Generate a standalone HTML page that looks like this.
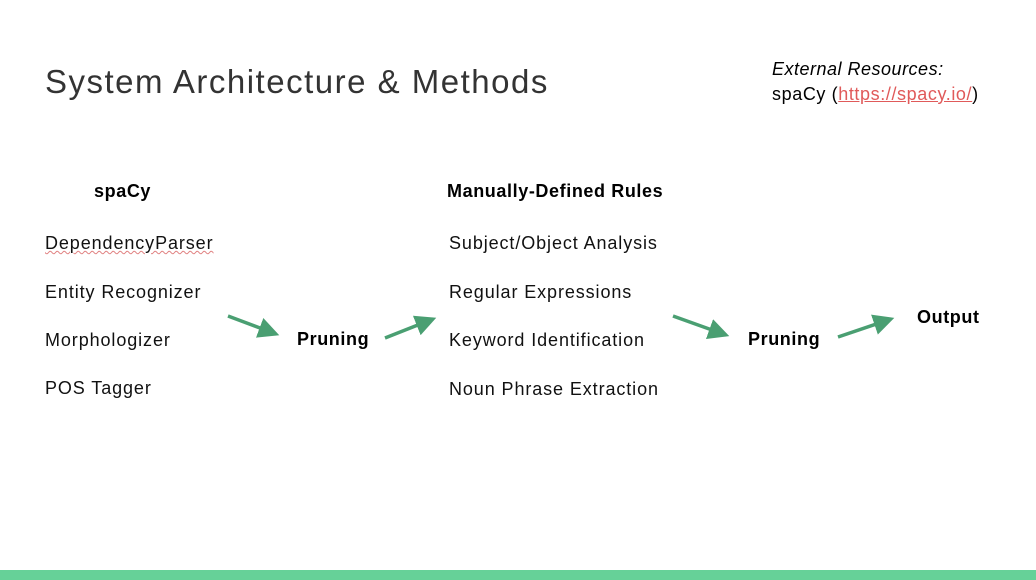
<!DOCTYPE html>
<html><head><meta charset="utf-8"><style>
body{margin:0;width:1036px;height:580px;background:#fff;position:relative;overflow:hidden;font-family:"Liberation Sans",sans-serif;color:#000}
.t{position:absolute;white-space:nowrap;line-height:1}
.i{font-size:18px;color:#111;letter-spacing:0.9px}
.b{font-size:18px;font-weight:bold;letter-spacing:0.6px}
</style></head><body>
<div class="t" style="left:45px;top:65px;font-size:33px;color:#333;letter-spacing:1.5px">System Architecture &amp; Methods</div>
<div class="t" style="left:772px;top:60px;font-size:18px;font-style:italic;letter-spacing:0.5px">External Resources:</div>
<div class="t" style="left:772px;top:85px;font-size:18px;letter-spacing:0.6px">spaCy (<span style="color:#e05a5a;text-decoration:underline">https://spacy.io/</span>)</div>
<div class="t b" style="left:94px;top:182px">spaCy</div>
<div class="t b" style="left:447px;top:182px">Manually-Defined Rules</div>
<div class="t i" style="left:45px;top:234px;text-decoration:underline wavy #e08080;text-decoration-thickness:1px">DependencyParser</div>
<div class="t i" style="left:45px;top:283px">Entity Recognizer</div>
<div class="t i" style="left:45px;top:331px">Morphologizer</div>
<div class="t i" style="left:45px;top:379px">POS Tagger</div>
<div class="t i" style="left:449px;top:234px">Subject/Object Analysis</div>
<div class="t i" style="left:449px;top:283px">Regular Expressions</div>
<div class="t i" style="left:449px;top:331px">Keyword Identification</div>
<div class="t i" style="left:449px;top:380px">Noun Phrase Extraction</div>
<div class="t b" style="left:297px;top:330px">Pruning</div>
<div class="t b" style="left:748px;top:330px">Pruning</div>
<div class="t b" style="left:917px;top:308px">Output</div>
<svg width="1036" height="580" style="position:absolute;left:0;top:0">
<defs><marker id="a" markerWidth="6" markerHeight="6" refX="5" refY="3" orient="auto" markerUnits="strokeWidth"><path d="M0,0 L6,3 L0,6 Z" fill="#4a9f72"/></marker></defs>
<g stroke="#4a9f72" stroke-width="3.5" fill="none" marker-end="url(#a)">
<line x1="228" y1="316" x2="276" y2="334"/>
<line x1="385" y1="338" x2="433" y2="319"/>
<line x1="673" y1="316" x2="726" y2="335"/>
<line x1="838" y1="337" x2="891" y2="319"/>
</g></svg>
<div style="position:absolute;left:0;top:570px;width:1036px;height:10px;background:#66d198"></div>
</body></html>
